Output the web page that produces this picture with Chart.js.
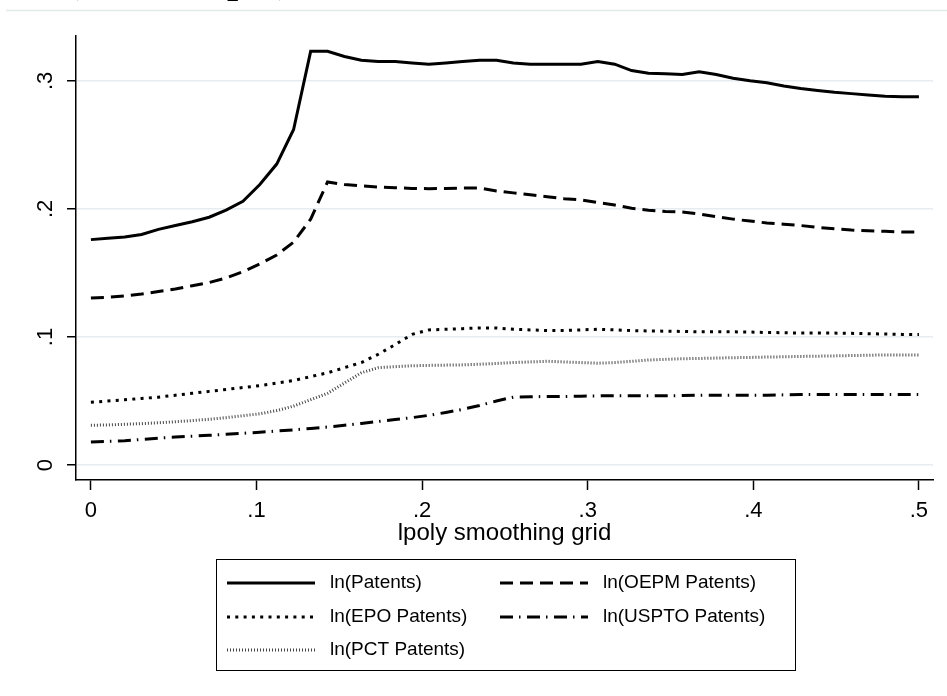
<!DOCTYPE html>
<html>
<head>
<meta charset="utf-8">
<script src="https://cdn.jsdelivr.net/npm/chart.js@4.4.1/dist/chart.umd.min.js"></script>
<style>
  html, body { margin: 0; padding: 0; background: #fff; }
  #wrap { width: 947px; height: 696px; position: relative; }
</style>
</head>
<body>
<div id="wrap"><canvas id="lpolyChart" width="947" height="696"></canvas></div>
<script>
// lpoly grid (50 points on [0, .5])
const grid = [0, 0.0102, 0.0204, 0.0306, 0.0408, 0.0510, 0.0612, 0.0714, 0.0816, 0.0918,
  0.1020, 0.1122, 0.1224, 0.1327, 0.1429, 0.1531, 0.1633, 0.1735, 0.1837, 0.1939,
  0.2041, 0.2143, 0.2245, 0.2347, 0.2449, 0.2551, 0.2653, 0.2755, 0.2857, 0.2959,
  0.3061, 0.3163, 0.3265, 0.3367, 0.3469, 0.3571, 0.3673, 0.3776, 0.3878, 0.3980,
  0.4082, 0.4184, 0.4286, 0.4388, 0.4490, 0.4592, 0.4694, 0.4796, 0.4898, 0.5];

const lnPatents = [0.176, 0.177, 0.178, 0.180, 0.184, 0.187, 0.190, 0.1935, 0.199, 0.206,
  0.219, 0.235, 0.262, 0.323, 0.323, 0.319, 0.316, 0.315, 0.315, 0.314,
  0.313, 0.314, 0.315, 0.316, 0.316, 0.314, 0.313, 0.313, 0.313, 0.313,
  0.315, 0.313, 0.308, 0.306, 0.3055, 0.305, 0.307, 0.305, 0.302, 0.300,
  0.2985, 0.296, 0.294, 0.2925, 0.291, 0.290, 0.289, 0.288, 0.2875, 0.2875];

const lnOepm = [0.1305, 0.131, 0.132, 0.1335, 0.1355, 0.1375, 0.140, 0.1425, 0.146, 0.151,
  0.157, 0.164, 0.174, 0.192, 0.221, 0.219, 0.218, 0.217, 0.2165, 0.216,
  0.2158, 0.216, 0.2163, 0.2163, 0.214, 0.2125, 0.211, 0.2095, 0.208, 0.207,
  0.205, 0.203, 0.2005, 0.199, 0.198, 0.1975, 0.196, 0.194, 0.192, 0.1905,
  0.189, 0.188, 0.187, 0.1855, 0.1845, 0.1835, 0.183, 0.1825, 0.182, 0.182];

const lnEpo = [0.049, 0.050, 0.051, 0.052, 0.053, 0.0545, 0.056, 0.0575, 0.059, 0.0605,
  0.062, 0.064, 0.066, 0.069, 0.072, 0.076, 0.080, 0.0865, 0.094, 0.102,
  0.1055, 0.106, 0.1065, 0.107, 0.107, 0.106, 0.1055, 0.105, 0.105, 0.1055,
  0.106, 0.1055, 0.105, 0.1047, 0.1045, 0.1043, 0.104, 0.104, 0.104, 0.1038,
  0.1035, 0.1033, 0.103, 0.103, 0.103, 0.1028, 0.1025, 0.1023, 0.102, 0.102];

const lnUspto = [0.018, 0.0185, 0.019, 0.020, 0.021, 0.0218, 0.0225, 0.0232, 0.024, 0.0248,
  0.0256, 0.0265, 0.0275, 0.0285, 0.0297, 0.031, 0.0325, 0.034, 0.0355, 0.037,
  0.0388, 0.041, 0.0435, 0.0465, 0.050, 0.053, 0.0533, 0.0535, 0.0535, 0.0537,
  0.054, 0.054, 0.054, 0.054, 0.054, 0.0542, 0.0545, 0.0545, 0.0545, 0.0545,
  0.0545, 0.0548, 0.055, 0.055, 0.055, 0.055, 0.055, 0.055, 0.055, 0.055];

const lnPct = [0.031, 0.0313, 0.0318, 0.0323, 0.033, 0.0338, 0.0347, 0.0357, 0.037, 0.0385,
  0.040, 0.0425, 0.046, 0.051, 0.056, 0.064, 0.072, 0.076, 0.0768, 0.0775,
  0.0778, 0.078, 0.0782, 0.0787, 0.0793, 0.080, 0.0805, 0.081, 0.0805, 0.080,
  0.0795, 0.080, 0.081, 0.082, 0.0825, 0.083, 0.0832, 0.0835, 0.0838, 0.084,
  0.0843, 0.0845, 0.0848, 0.085, 0.0852, 0.0855, 0.0857, 0.086, 0.086, 0.086];

const seriesNames = ['ln(Patents)', 'ln(OEPM Patents)', 'ln(EPO Patents)', 'ln(USPTO Patents)', 'ln(PCT Patents)'];
const xTicks = [0, 0.1, 0.2, 0.3, 0.4, 0.5];
const xTickLabels = ['0', '.1', '.2', '.3', '.4', '.5'];
const yTicks = [0, 0.1, 0.2, 0.3];
const yTickLabels = ['0', '.1', '.2', '.3'];

const FONT = '"Liberation Sans", Arial, sans-serif';

function pairs(ys) {
  return grid.map((g, i) => ({ x: g, y: ys[i] }));
}

// frame line + title cut off at the very top
const topFrame = {
  id: 'topFrame',
  beforeDraw(chart) {
    const ctx = chart.ctx;
    ctx.save();
    ctx.strokeStyle = '#e2ebeb';
    ctx.lineWidth = 1.5;
    ctx.beginPath();
    ctx.moveTo(6, 10.5);
    ctx.lineTo(947, 10.5);
    ctx.stroke();
    ctx.fillStyle = '#000';
    ctx.font = 'bold 40px "Liberation Serif", serif';
    ctx.textBaseline = 'alphabetic';
    ctx.textAlign = 'left';
    ctx.fillText('(Full sample)', 66, -8);
    ctx.restore();
  }
};

// Stata style legend: boxed, two columns
const boxLegend = {
  id: 'boxLegend',
  afterDraw(chart) {
    const ctx = chart.ctx;
    const colX = [227, 500];
    const rowY = [583, 617, 650];
    ctx.save();
    ctx.strokeStyle = '#000';
    ctx.lineWidth = 1;
    ctx.strokeRect(216.5, 559.5, 579, 111);
    ctx.font = '19px ' + FONT;
    ctx.textBaseline = 'middle';
    ctx.textAlign = 'left';
    chart.data.datasets.forEach((ds, i) => {
      const col = i % 2, row = Math.floor(i / 2);
      const x = colX[col], y = rowY[row];
      ctx.strokeStyle = ds.borderColor;
      ctx.lineWidth = ds.borderWidth;
      ctx.setLineDash(ds.borderDash || []);
      ctx.beginPath();
      ctx.moveTo(x, y);
      ctx.lineTo(x + 88, y);
      ctx.stroke();
      ctx.setLineDash([]);
      ctx.fillStyle = '#000';
      ctx.fillText(ds.label, x + 103, y);
    });
    ctx.restore();
  }
};

const ctx = document.getElementById('lpolyChart').getContext('2d');
const lpolyChart = new Chart(ctx, {
  type: 'line',
  data: {
    datasets: [{
      label: seriesNames[0],
      data: pairs(lnPatents),
      borderColor: '#000',
      borderWidth: 3,
      borderDash: []
    }, {
      label: seriesNames[1],
      data: pairs(lnOepm),
      borderColor: '#000',
      borderWidth: 3,
      borderDash: [13, 7]
    }, {
      label: seriesNames[2],
      data: pairs(lnEpo),
      borderColor: '#000',
      borderWidth: 3,
      borderDash: [3, 5.3]
    }, {
      label: seriesNames[3],
      data: pairs(lnUspto),
      borderColor: '#000',
      borderWidth: 3,
      borderDash: [13, 6, 1.5, 6.5]
    }, {
      label: seriesNames[4],
      data: pairs(lnPct),
      borderColor: '#444',
      borderWidth: 3,
      borderDash: [1, 2]
    }]
  },
  options: {
    responsive: false,
    animation: false,
    elements: {
      point: { radius: 0 },
      line: { tension: 0, borderCapStyle: 'butt' }
    },
    layout: {
      padding: { top: 36, right: 14, bottom: 144, left: 0 }
    },
    plugins: {
      legend: { display: false },
      tooltip: { enabled: false }
    },
    scales: {
      x: {
        type: 'linear',
        min: -0.009,
        max: 0.5085,
        afterBuildTicks: s => { s.ticks = xTicks.map(v => ({ value: v })); },
        afterFit: s => { s.height = 72; },
        ticks: {
          callback: (v, i) => xTickLabels[i],
          maxRotation: 0,
          padding: 8,
          color: '#000',
          font: { family: FONT, size: 22 }
        },
        grid: { drawOnChartArea: false, tickColor: '#000', tickLength: 10, tickWidth: 1.5 },
        border: { color: '#000', width: 1.5 },
        title: {
          display: true,
          text: 'lpoly smoothing grid',
          color: '#000',
          font: { family: FONT, size: 24 },
          padding: { top: 0, bottom: 4 }
        }
      },
      y: {
        type: 'linear',
        min: -0.0117,
        max: 0.335,
        afterBuildTicks: s => { s.ticks = yTicks.map(v => ({ value: v })); },
        afterFit: s => { s.width = 76; },
        ticks: {
          callback: (v, i) => yTickLabels[i],
          minRotation: 90,
          maxRotation: 90,
          crossAlign: 'center',
          padding: 12,
          color: '#000',
          font: { family: FONT, size: 22 }
        },
        grid: { color: '#e6ecf0', lineWidth: 1.5, tickColor: '#000', tickLength: 9, tickWidth: 1.5 },
        border: { color: '#000', width: 1.5 }
      }
    }
  },
  plugins: [topFrame, boxLegend]
});
</script>
</body>
</html>
